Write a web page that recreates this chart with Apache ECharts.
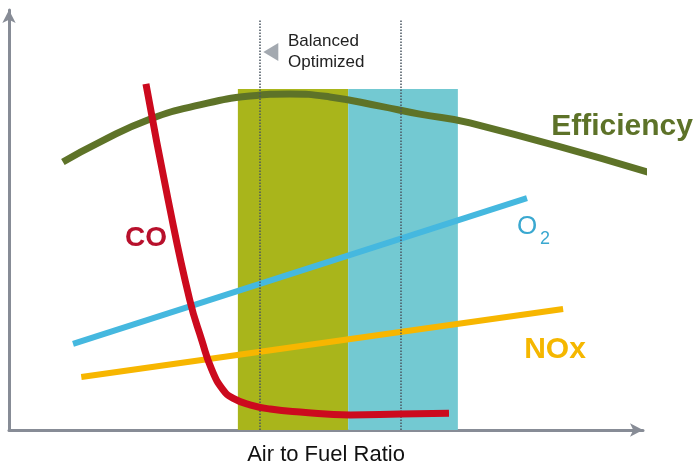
<!DOCTYPE html>
<html><head><meta charset="utf-8">
<script src="https://cdn.jsdelivr.net/npm/echarts@6/dist/echarts.min.js"></script>
<style>html,body{margin:0;padding:0;background:#fff}#c{width:700px;height:475px}</style>
</head><body><div id="c"></div>
<script>
// Data (arbitrary units 0-100 on both axes)
const effX = [8.5,14.4,22.2,30.1,38.0,44.3,50.6,58.5,64.8,72.7,100.8];
const effY = [63.8,68.6,74.0,77.4,79.5,80.0,79.3,77.1,75.2,73.1,61.4];
const coX = [21.6,25.1,28.5,30.4,32.0,33.8,35.3,38.0,41.2,45.9,53.8,61.7,69.4];
const coY = [82.4,54.8,31.0,21.4,14.3,9.5,7.6,6.0,5.0,4.3,3.6,3.8,4.0];
const o2X = [10.1,81.7];
const o2Y = [20.5,55.2];
const noxX = [11.4,87.4];
const noxY = [12.6,28.8];
const zoneNames = ['Optimum Zone','Comfort Zone'];
const zoneStart = [36.1,53.5];
const zoneEnd = [53.5,70.8];
const zoneTop = [81.2,81.2];
const refLinesX = [39.6,61.8];
const refLineTop = 97.6;
const markerPoint = [41.3,90.0];

const zip = (xs, ys) => xs.map((x, i) => [x, ys[i]]);
const FONT = '"Liberation Sans", Arial, sans-serif';
const zoneColors = ['#a9b51b','#73c9d2'];

const chart = echarts.init(document.getElementById('c'));
chart.setOption({
  animation:false,
  backgroundColor:'#fff',
  grid:{left:9,top:10,right:57,bottom:45},
  xAxis:{type:'value',min:0,max:100,
    axisLine:{show:true,symbol:['none','arrow'],symbolSize:[10,13],lineStyle:{color:'#878c96',width:3}},
    axisTick:{show:false},axisLabel:{show:false},splitLine:{show:false}},
  yAxis:{type:'value',min:0,max:100,
    axisLine:{show:true,symbol:['none','arrow'],symbolSize:[10,13],lineStyle:{color:'#878c96',width:3}},
    axisTick:{show:false},axisLabel:{show:false},splitLine:{show:false}},
  series:[
    {type:'line',name:'zones',data:[],silent:true,z:1,
      markArea:{silent:true,label:{show:false},
        data: zoneNames.map((n,i)=>[{name:n,coord:[zoneStart[i],0],itemStyle:{color:zoneColors[i],opacity:1}},{coord:[zoneEnd[i],zoneTop[i]]}])}},
    {type:'line',name:'Efficiency',data:zip(effX,effY),smooth:true,showSymbol:false,clip:false,z:3,
      lineStyle:{color:'#5e7328',width:7}},
    {type:'line',name:'O2',data:zip(o2X,o2Y),showSymbol:false,z:4,
      lineStyle:{color:'#45b8df',width:6}},
    {type:'line',name:'NOx',data:zip(noxX,noxY),showSymbol:false,z:4,
      lineStyle:{color:'#f7b600',width:6}},
    {type:'line',name:'CO',data:zip(coX,coY),smooth:true,showSymbol:false,z:5,
      lineStyle:{color:'#cc0a1e',width:7}},
    {type:'line',name:'ref',data:[],silent:true,z:6,
      markLine:{silent:true,symbol:['none','none'],label:{show:false},
        lineStyle:{color:'#4a5560',width:1.5,type:'dotted'},
        data: refLinesX.map(x=>[{coord:[x,0]},{coord:[x,refLineTop]}])}},
    {type:'scatter',name:'marker',data:[markerPoint],symbol:'triangle',symbolRotate:90,symbolSize:[18,15],z:6,
      itemStyle:{color:'#8c939c'}}
  ],
  graphic:[
    {type:'text',left:288,top:31,style:{text:'Balanced\nOptimized',font:'17px '+FONT,fill:'#222',lineHeight:21}},
    {type:'text',x:293,y:182,style:{text:'Optimum',font:'bold 18px '+FONT,fill:'#1a2130',align:'center',verticalAlign:'middle'}},
    {type:'text',x:293,y:204,style:{text:'Zone',font:'bold 18px '+FONT,fill:'#1a2130',align:'center',verticalAlign:'middle'}},
    {type:'text',x:404,y:182,style:{text:'Comfort',font:'bold 18px '+FONT,fill:'#1a2130',align:'center',verticalAlign:'middle'}},
    {type:'text',x:404,y:204,style:{text:'Zone',font:'bold 18px '+FONT,fill:'#1a2130',align:'center',verticalAlign:'middle'}},
    {type:'text',x:146,y:238,style:{text:'CO',font:'bold 28px '+FONT,fill:'#b8102c',align:'center',verticalAlign:'middle'}},
    {type:'text',x:622,y:127,style:{text:'Efficiency',font:'bold 30px '+FONT,fill:'#5d7228',align:'center',verticalAlign:'middle'}},
    {type:'text',x:517,y:227,style:{text:'O',font:'26px '+FONT,fill:'#3aa8d0',verticalAlign:'middle'}},
    {type:'text',x:540,y:239,style:{text:'2',font:'18px '+FONT,fill:'#3aa8d0',verticalAlign:'middle'}},
    {type:'text',x:555,y:350,style:{text:'NOx',font:'bold 30px '+FONT,fill:'#f5b700',align:'center',verticalAlign:'middle'}},
    {type:'text',x:326,y:455,style:{text:'Air to Fuel Ratio',font:'22px '+FONT,fill:'#111',align:'center',verticalAlign:'middle'}}
  ]
});
</script></body></html>
